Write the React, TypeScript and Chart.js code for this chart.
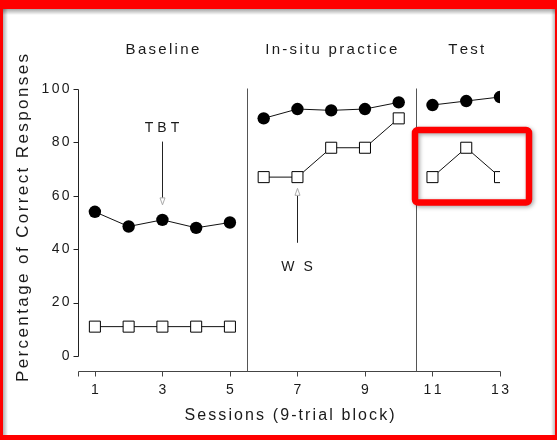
import React, { useEffect, useRef } from "react";
import { Chart, registerables } from "chart.js";

Chart.register(...registerables);

// Sessions and the two measures (percentage of correct responses)
const sessions = [1, 2, 3, 4, 5, 6, 7, 8, 9, 10, 11, 12, 13];
const tbtPercent = [54, 48.5, 51, 48, 50, 89, 92.5, 92, 92.5, 95, 94, 95.5, 97];
const wsPercent = [11, 11, 11, 11, 11, 67, 67, 78, 78, 89, 67, 78, 67];

// Phases
const phaseNames = ["Baseline", "In-situ practice", "Test"];
const phaseFirst = [1, 6, 11];
const phaseLast = [5, 10, 13];
const phaseBreaks = [5.5, 10.5];

// Axes
const xTickValues = [1, 3, 5, 7, 9, 11, 13];
const yTickValues = [0, 20, 40, 60, 80, 100];
const xTitle = "Sessions (9-trial block)";
const yTitle = "Percentage of Correct Responses";

// Arrow notes: label, session, label level, tail level, tip level
const noteLabels = ["TBT", "W S"];
const noteSessions = [3, 7];
const noteTextLevels = [85.3, 33.3];
const noteTailLevels = [80.3, 42.4];
const noteTipLevels = [56.6, 62.8];

const FONT = "'Liberation Sans', Arial, sans-serif";

function spacedWidth(ctx: CanvasRenderingContext2D, text: string, sp: number) {
  let w = 0;
  for (const ch of text) w += ctx.measureText(ch).width;
  return w + sp * (text.length - 1);
}

function drawSpaced(
  ctx: CanvasRenderingContext2D,
  text: string,
  x: number,
  y: number,
  align: "left" | "center" | "right",
  sp: number
) {
  const w = spacedWidth(ctx, text, sp);
  let cx = align === "center" ? x - w / 2 : align === "right" ? x - w : x;
  ctx.textAlign = "left";
  for (const ch of text) {
    ctx.fillText(ch, cx, y);
    cx += ctx.measureText(ch).width + sp;
  }
}

const crossesPhase = (a: number, b: number) =>
  phaseBreaks.some((p) => (a - p) * (b - p) < 0);

const decorPlugin = {
  id: "decor",
  beforeDraw(chart: any) {
    const ctx = chart.ctx as CanvasRenderingContext2D;
    ctx.save();
    ctx.fillStyle = "#ffffff";
    ctx.fillRect(0, 0, chart.width, chart.height);
    ctx.restore();
  },
  beforeDatasetsDraw(chart: any) {
    const ctx = chart.ctx as CanvasRenderingContext2D;
    const xs = chart.scales.x;
    const ys = chart.scales.y;
    const x0 = Math.round(xs.getPixelForValue(0.5)) + 0.5;
    const x1 = Math.round(xs.getPixelForValue(13)) + 0.5;
    const yTop = Math.round(ys.getPixelForValue(100)) + 0.5;
    const yBot = Math.round(ys.getPixelForValue(0)) + 0.5;
    const xAxisY = yBot + 15;

    ctx.save();
    ctx.lineWidth = 1;

    // y axis with left-pointing ticks
    ctx.strokeStyle = "#222";
    ctx.beginPath();
    ctx.moveTo(x0, yTop);
    ctx.lineTo(x0, yBot);
    for (const v of yTickValues) {
      const y = Math.round(ys.getPixelForValue(v)) + 0.5;
      ctx.moveTo(x0 - 5, y);
      ctx.lineTo(x0, y);
    }
    ctx.stroke();

    // x axis, offset below the plot, with downward ticks
    ctx.strokeStyle = "#444";
    ctx.beginPath();
    ctx.moveTo(x0, xAxisY);
    ctx.lineTo(x1, xAxisY);
    for (const v of [0.5, ...xTickValues]) {
      const x = Math.round(xs.getPixelForValue(v)) + 0.5;
      ctx.moveTo(x, xAxisY);
      ctx.lineTo(x, xAxisY + 5);
    }
    ctx.stroke();

    // phase change lines
    ctx.strokeStyle = "#555";
    ctx.beginPath();
    for (const p of phaseBreaks) {
      const x = Math.round(xs.getPixelForValue(p)) + 0.5;
      ctx.moveTo(x, yTop - 1);
      ctx.lineTo(x, xAxisY);
    }
    ctx.stroke();

    // tick labels
    ctx.fillStyle = "#1a1a1a";
    ctx.textBaseline = "middle";
    ctx.font = `14px ${FONT}`;
    for (const v of yTickValues) {
      drawSpaced(ctx, String(v), x0 - 9, ys.getPixelForValue(v), "right", 2.3);
    }
    for (const v of xTickValues) {
      drawSpaced(ctx, String(v), xs.getPixelForValue(v), xAxisY + 19, "center", 2.3);
    }

    // axis titles
    ctx.font = `16px ${FONT}`;
    drawSpaced(ctx, xTitle, (x0 + x1) / 2, xAxisY + 44, "center", 2.1);
    ctx.save();
    ctx.translate(23, (yTop + yBot) / 2 - 5);
    ctx.rotate(-Math.PI / 2);
    ctx.font = `17px ${FONT}`;
    drawSpaced(ctx, yTitle, 0, 0, "center", 2.4);
    ctx.restore();

    // phase headers
    ctx.font = `15px ${FONT}`;
    phaseNames.forEach((name, i) => {
      const cx = xs.getPixelForValue((phaseFirst[i] + phaseLast[i]) / 2);
      drawSpaced(ctx, name, cx, 50, "center", 2.3);
    });

    // arrow notes
    noteLabels.forEach((label, i) => {
      const ax = Math.round(xs.getPixelForValue(noteSessions[i])) + 0.5;
      const ty = ys.getPixelForValue(noteTextLevels[i]);
      const tail = ys.getPixelForValue(noteTailLevels[i]);
      const tip = ys.getPixelForValue(noteTipLevels[i]);
      const dir = tip > tail ? 1 : -1;
      const base = tip - dir * 7;
      ctx.font = `14px ${FONT}`;
      ctx.fillStyle = "#1a1a1a";
      drawSpaced(ctx, label, ax - 0.5, ty, "center", label.includes(" ") ? 2.5 : 4);
      ctx.strokeStyle = "#222";
      ctx.beginPath();
      ctx.moveTo(ax, tail);
      ctx.lineTo(ax, base);
      ctx.stroke();
      ctx.fillStyle = "#fff";
      ctx.strokeStyle = "#aaa";
      ctx.beginPath();
      ctx.moveTo(ax - 2.5, base);
      ctx.lineTo(ax + 2.5, base);
      ctx.lineTo(ax, tip);
      ctx.closePath();
      ctx.fill();
      ctx.stroke();
    });

    ctx.restore();
  },
  afterDraw(chart: any) {
    const ctx = chart.ctx as CanvasRenderingContext2D;
    const W = chart.width;
    const H = chart.height;
    ctx.save();

    // inner shadow of the frame
    let g = ctx.createLinearGradient(0, 9, 0, 15);
    g.addColorStop(0, "rgba(0,0,0,0.35)");
    g.addColorStop(1, "rgba(0,0,0,0)");
    ctx.fillStyle = g;
    ctx.fillRect(3, 9, W - 5, 6);
    g = ctx.createLinearGradient(3, 0, 8, 0);
    g.addColorStop(0, "rgba(0,0,0,0.3)");
    g.addColorStop(1, "rgba(0,0,0,0)");
    ctx.fillStyle = g;
    ctx.fillRect(3, 9, 5, H - 14);
    g = ctx.createLinearGradient(W - 6, 0, W - 2, 0);
    g.addColorStop(0, "rgba(0,0,0,0)");
    g.addColorStop(1, "rgba(0,0,0,0.25)");
    ctx.fillStyle = g;
    ctx.fillRect(W - 6, 9, 4, H - 14);

    // red frame
    ctx.fillStyle = "#ff0000";
    ctx.fillRect(0, 0, W, 9);
    ctx.fillRect(0, 0, 3, H);
    ctx.fillRect(W - 2, 0, 2, H);
    ctx.fillRect(0, H - 5, W, 5);

    // highlight box around the test-phase WS points
    ctx.shadowColor = "rgba(0,0,0,0.35)";
    ctx.shadowBlur = 4;
    ctx.shadowOffsetX = 1.5;
    ctx.shadowOffsetY = 1.5;
    ctx.strokeStyle = "#ff0000";
    ctx.lineWidth = 6.5;
    ctx.beginPath();
    (ctx as any).roundRect(415, 130, 114, 72.5, 3);
    ctx.stroke();

    ctx.restore();
  },
};

export default function App() {
  const ref = useRef<HTMLCanvasElement>(null);

  useEffect(() => {
    if (!ref.current) return;
    const segmentColor = (c: any) =>
      crossesPhase(c.p0.parsed.x, c.p1.parsed.x) ? "rgba(0,0,0,0)" : "#111";
    const clip = { left: 20, top: 20, right: 0, bottom: 20 };
    const chart = new Chart(ref.current, {
      type: "line",
      data: {
        datasets: [
          {
            label: "TBT",
            data: sessions.map((s, i) => ({ x: s, y: tbtPercent[i] })),
            borderColor: "#111",
            borderWidth: 1,
            pointStyle: "circle",
            pointRadius: 6.2,
            pointBackgroundColor: "#000",
            pointBorderColor: "#000",
            pointBorderWidth: 0,
            tension: 0,
            segment: { borderColor: segmentColor },
            clip,
          } as any,
          {
            label: "WS",
            data: sessions.map((s, i) => ({ x: s, y: wsPercent[i] })),
            borderColor: "#111",
            borderWidth: 1,
            pointStyle: "rect",
            pointRadius: 7.8,
            pointBackgroundColor: "#fff",
            pointBorderColor: "#000",
            pointBorderWidth: 1,
            tension: 0,
            segment: { borderColor: segmentColor },
            clip,
          } as any,
        ],
      },
      options: {
        responsive: false,
        animation: false,
        events: [],
        layout: { padding: { left: 78, right: 57, top: 89, bottom: 84 } },
        scales: {
          x: { type: "linear", min: 0.5, max: 13, display: false },
          y: { type: "linear", min: 0, max: 100, display: false },
        },
        plugins: { legend: { display: false }, tooltip: { enabled: false } },
      },
      plugins: [decorPlugin],
    });
    return () => chart.destroy();
  }, []);

  return (
    <div style={{ position: "fixed", left: 0, top: 0, width: 557, height: 440, background: "#fff" }}>
      <canvas ref={ref} width={557} height={440} style={{ display: "block" }} />
    </div>
  );
}
